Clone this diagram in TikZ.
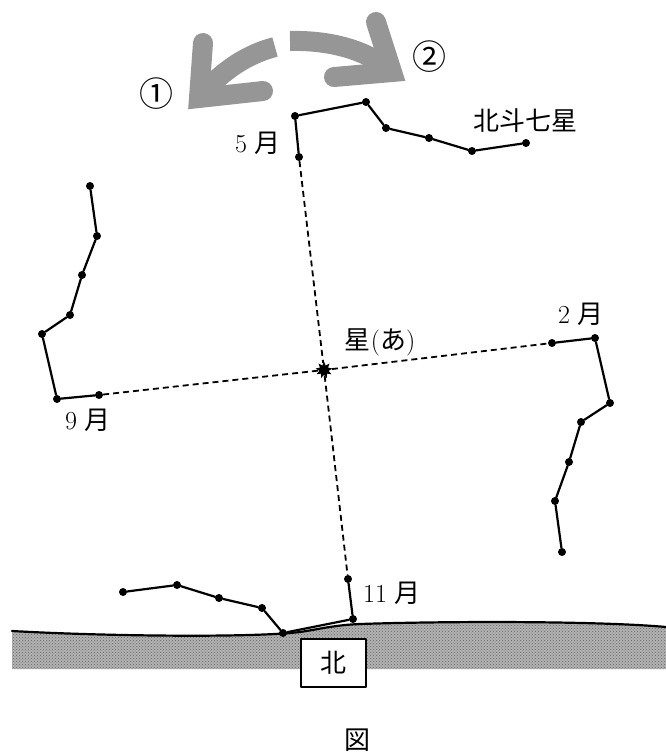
\documentclass[tikz,border=0pt]{standalone}
\usepackage{fontspec}
\newfontfamily\cjk{Noto Sans CJK JP}
\usetikzlibrary{patterns,shapes.geometric}
\definecolor{arrowgray}{RGB}{150,150,150}
\begin{document}
\begin{tikzpicture}[x=1pt,y=-1pt,line join=round,line cap=round,font=\fontsize{26}{30}\selectfont,
	dot/.style={circle,fill,inner sep=0pt,minimum size=8pt},
	link/.style={line width=2.2pt},
	guide/.style={line width=1.8pt,line cap=butt,dash pattern=on 6pt off 4pt},
	bigarrow/.style={line width=20pt,arrowgray},
	circnum/.style={font=\fontsize{34}{36}\selectfont\cjk}]
	\useasboundingbox (0,0) rectangle (666,756);
	% ground
	\fill[black!30] (12,631) .. controls (100,636) and (250,638) .. (300,632) .. controls (320,629) and (335,625) .. (360,624) .. controls (450,621) and (600,621) .. (666,627) -- (666,669) -- (12,669) -- cycle;
	\fill[pattern=crosshatch dots,pattern color=black!60] (12,631) .. controls (100,636) and (250,638) .. (300,632) .. controls (320,629) and (335,625) .. (360,624) .. controls (450,621) and (600,621) .. (666,627) -- (666,669) -- (12,669) -- cycle;
	\draw[line width=2.2pt] (12,631) .. controls (100,636) and (250,638) .. (300,632) .. controls (320,629) and (335,625) .. (360,624) .. controls (450,621) and (600,621) .. (666,627);
	\node[draw,line width=1.5pt,fill=white,inner sep=0pt,minimum width=65pt,minimum height=48pt] (north) at (333.5,663) {\cjk 北};
	% turning arrows
	\draw[bigarrow,line cap=butt] (199,98) .. controls (222,70) and (248,54) .. (275,47);
	\draw[bigarrow,line join=miter] (203,43) -- (199,98) -- (263,91);
	\draw[bigarrow,line cap=butt] (290,41) .. controls (330,40) and (368,50) .. (392,72);
	\draw[bigarrow,line join=miter] (334,77) -- (392,72) -- (376,22);
	\node[circnum] (one) at (156,94) {①};
	\node[circnum] (two) at (429,57) {②};
	% stars
	\foreach \p [count=\i] in {(299,157),(295,116),(366,102),(386,128),(429,138),(472,151),(526,143)}
		\node[dot] (t\i) at \p {};
	\foreach \p [count=\i] in {(99,395),(57,399),(42,334),(70,315),(82,275),(97,236),(90,186)}
		\node[dot] (l\i) at \p {};
	\foreach \p [count=\i] in {(552,343),(595,338),(610,403),(581,422),(569,462),(555,501),(562,552)}
		\node[dot] (r\i) at \p {};
	\foreach \p [count=\i] in {(348,579),(353,619),(283,633),(262,608),(219,598),(177,585),(123,592)}
		\node[dot] (b\i) at \p {};
	\node[star,star points=9,star point ratio=1.8,fill,inner sep=0pt,minimum size=17pt] (polaris) at (324,370) {};
	\draw[link] (t1) -- (t2) -- (t3) -- (t4) -- (t5) -- (t6) -- (t7);
	\draw[link] (l1) -- (l2) -- (l3) -- (l4) -- (l5) -- (l6) -- (l7);
	\draw[link] (r1) -- (r2) -- (r3) -- (r4) -- (r5) -- (r6) -- (r7);
	\draw[link] (b1) -- (b2) -- (b3) -- (b4) -- (b5) -- (b6) -- (b7);
	\draw[guide] (t1) -- (polaris) -- (b1);
	\draw[guide] (l1) -- (polaris) -- (r1);
	% labels
	\node (may) at (258,143) {5 {\cjk 月}};
	\node (dipper) at (525,121) {\cjk 北斗七星};
	\node (polname) at (380,342) {{\cjk 星}({\cjk あ})};
	\node (feb) at (581,314) {2 {\cjk 月}};
	\node (sep) at (88,420) {9 {\cjk 月}};
	\node (nov) at (392,593) {11 {\cjk 月}};
	\node (fig) at (357,740) {\cjk 図};
\end{tikzpicture}
\end{document}
